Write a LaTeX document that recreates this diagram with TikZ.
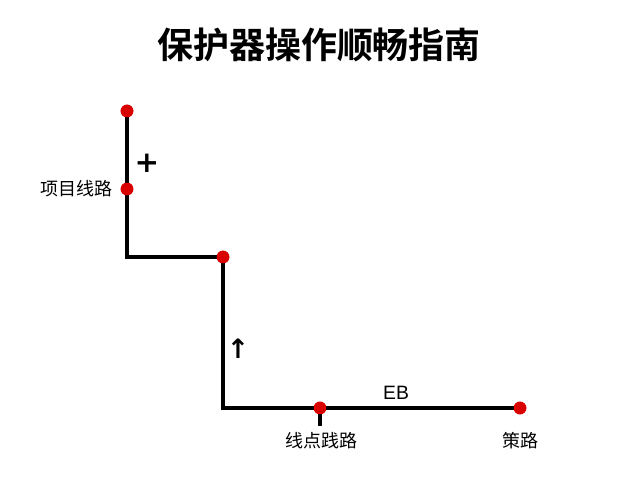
\documentclass[tikz,border=0pt]{standalone}
\usepackage{fontspec}
\newfontfamily\cjk{Noto Sans CJK SC}
\newfontfamily\cjkb{Noto Sans CJK SC Bold}
\newfontfamily\dejavu{DejaVu Sans}
\setmainfont{Liberation Sans}
\begin{document}
\begin{tikzpicture}[x=0.75pt,y=-0.75pt,
  wire/.style={line width=2.3pt,line join=miter},
  dot/.style={circle,fill=red!85!black,inner sep=0pt,minimum size=9.5pt},
  lbl/.style={font=\cjk\fontsize{13.5}{15}\selectfont,inner sep=1pt},
  sym/.style={font=\fontsize{14.5}{16}\selectfont,inner sep=1pt}]
\useasboundingbox (0,0) rectangle (640,480);
\fill[white] (0,0) rectangle (640,480);
\node[font=\cjkb\fontsize{27}{31}\selectfont] (title) at (319,45) {保护器操作顺畅指南};
\coordinate (c1) at (127,257);
\coordinate (c2) at (223,408);
\coordinate (t) at (320,426);
\node[dot] (p1) at (127,111) {};
\node[dot] (p2) at (127,189) {};
\node[dot] (p3) at (223,257) {};
\node[dot] (p4) at (320,408) {};
\node[dot] (p5) at (520,408) {};
\draw[wire] (p1.center) -- (p2.center) -- (c1) -- (p3.center) -- (c2) -- (p4.center) -- (p5.center);
\draw[wire] (p4.center) -- (t);
\node[dot] at (p1) {};
\node[dot] at (p2) {};
\node[dot] at (p3) {};
\node[dot] at (p4) {};
\node[dot] at (p5) {};
\node[lbl,anchor=east] (l1) at (114,189) {项目线路};
\node[font=\dejavu\bfseries\fontsize{22}{24}\selectfont] (plus) at (147,163) {+};
\node[font=\dejavu\bfseries\fontsize{20}{22}\selectfont] (up) at (238,349) {↑};
\node[sym] (eb) at (396,393) {EB};
\node[lbl] (l2) at (321,441) {线点践路};
\node[lbl] (l3) at (520,441) {策路};
\end{tikzpicture}
\end{document}
